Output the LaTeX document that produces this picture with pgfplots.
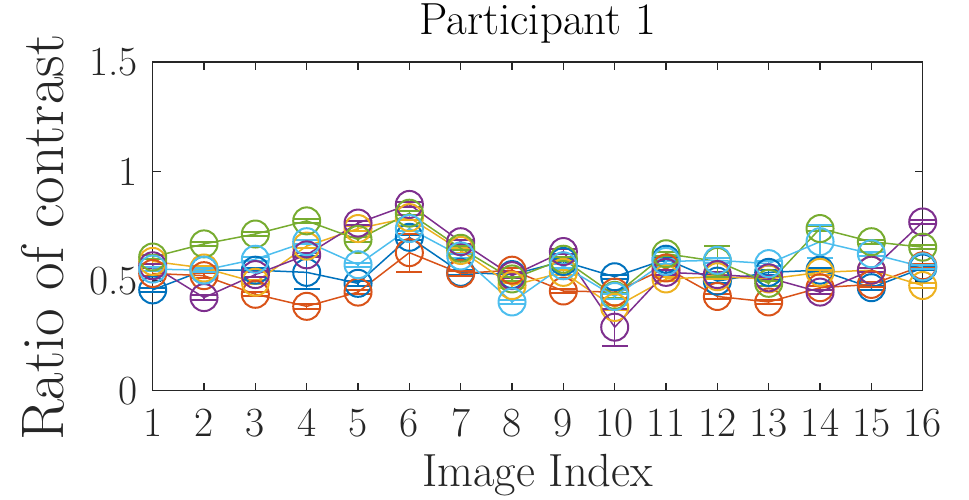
\documentclass[border=0pt]{standalone}
\usepackage{pgfplots}
\pgfplotsset{compat=1.18}
\definecolor{mb}{rgb}{0,0.447,0.741}
\definecolor{mo}{rgb}{0.85,0.325,0.098}
\definecolor{my}{rgb}{0.929,0.694,0.125}
\definecolor{mp}{rgb}{0.494,0.184,0.556}
\definecolor{mg}{rgb}{0.466,0.674,0.188}
\definecolor{mc}{rgb}{0.301,0.745,0.933}
\definecolor{ax}{rgb}{0.15,0.15,0.15}
\pgfplotsset{ser/.style={color=#1, line width=1.5pt, mark=o, mark size=13.5pt,
  mark options={line width=2pt, solid},
  error bars/.cd, y dir=both, y explicit, error mark=-,
  error bar style={line width=1.5pt, color=#1},
  error mark options={mark size=13pt, line width=2pt, color=#1, rotate=90}}}
\begin{document}
\begin{tikzpicture}
\useasboundingbox (-152.7pt,-108.3pt) rectangle (816.3pt,390.7pt);
\begin{axis}[
  at={(0,0)}, anchor=south west,
  scale only axis, width=770pt, height=328.7pt,
  xmin=1, xmax=16, ymin=0, ymax=1.5,
  xtick={1,...,16}, ytick={0,0.5,1,1.5},
  tick pos=both, tick align=inside, major tick length=8pt,
  axis line style={line width=1.3pt, color=ax},
  every tick/.style={line width=1.3pt, color=ax},
  clip=false,
  /pgf/number format/assume math mode=true,
  ticklabel style={font=\fontsize{41.5}{41.5}\selectfont, color=ax},
  xticklabel style={anchor=base, inner sep=0pt, yshift=-45.3pt},
  yticklabel style={anchor=east, inner sep=0pt, xshift=-14.7pt},
  title={Participant 1},
  title style={font=\fontsize{45}{45}\selectfont, at={(axis description cs:0.5,1.064)}, anchor=base, inner sep=0pt},
  xlabel={Image Index},
  xlabel style={font=\fontsize{46.5}{46.5}\selectfont, at={(axis description cs:0.5,-0.292)}, anchor=base, inner sep=0pt, color=ax},
  ylabel={Ratio of contrast},
  ylabel style={font=\fontsize{60}{60}\selectfont, at={(axis description cs:-0.1156,0.465)}, anchor=base, rotate=0, inner sep=0pt, color=ax},
]
\addplot[ser=mb] coordinates {
(1,0.46) +- (0,0.01) (2,0.55) +- (0,0.01) (3,0.55) +- (0,0.01) (4,0.54) +- (0,0.075)
(5,0.49) +- (0,0.01) (6,0.70) +- (0,0.01) (7,0.54) +- (0,0.01) (8,0.53) +- (0,0.01)
(9,0.59) +- (0,0.01) (10,0.52) +- (0,0.01) (11,0.60) +- (0,0.01) (12,0.50) +- (0,0.01)
(13,0.54) +- (0,0.01) (14,0.55) +- (0,0.01) (15,0.47) +- (0,0.01) (16,0.56) +- (0,0.01)};
\addplot[ser=mo] coordinates {
(1,0.535) +- (0,0.01) (2,0.525) +- (0,0.01) (3,0.44) +- (0,0.01) (4,0.385) +- (0,0.01)
(5,0.45) +- (0,0.01) (6,0.63) +- (0,0.087) (7,0.535) +- (0,0.01) (8,0.55) +- (0,0.01)
(9,0.455) +- (0,0.01) (10,0.45) +- (0,0.01) (11,0.56) +- (0,0.01) (12,0.43) +- (0,0.01)
(13,0.405) +- (0,0.01) (14,0.47) +- (0,0.01) (15,0.485) +- (0,0.01) (16,0.57) +- (0,0.01)};
\addplot[ser=my] coordinates {
(1,0.59) +- (0,0.01) (2,0.56) +- (0,0.01) (3,0.495) +- (0,0.01) (4,0.66) +- (0,0.01)
(5,0.74) +- (0,0.01) (6,0.79) +- (0,0.01) (7,0.64) +- (0,0.01) (8,0.48) +- (0,0.01)
(9,0.54) +- (0,0.01) (10,0.38) +- (0,0.01) (11,0.51) +- (0,0.01) (12,0.52) +- (0,0.01)
(13,0.51) +- (0,0.01) (14,0.54) +- (0,0.01) (15,0.55) +- (0,0.01) (16,0.48) +- (0,0.01)};
\addplot[ser=mp] coordinates {
(1,0.57) +- (0,0.01) (2,0.425) +- (0,0.01) (3,0.53) +- (0,0.01) (4,0.62) +- (0,0.01)
(5,0.765) +- (0,0.01) (6,0.85) +- (0,0.01) (7,0.68) +- (0,0.01) (8,0.525) +- (0,0.01)
(9,0.635) +- (0,0.01) (10,0.29) +- (0,0.084) (11,0.54) +- (0,0.01) (12,0.53) +- (0,0.01)
(13,0.515) +- (0,0.01) (14,0.45) +- (0,0.01) (15,0.55) +- (0,0.01) (16,0.77) +- (0,0.01)};
\addplot[ser=mg] coordinates {
(1,0.61) +- (0,0.01) (2,0.67) +- (0,0.01) (3,0.715) +- (0,0.01) (4,0.775) +- (0,0.01)
(5,0.69) +- (0,0.01) (6,0.81) +- (0,0.01) (7,0.65) +- (0,0.01) (8,0.51) +- (0,0.01)
(9,0.60) +- (0,0.01) (10,0.435) +- (0,0.01) (11,0.625) +- (0,0.01) (12,0.59) +- (0,0.07)
(13,0.49) +- (0,0.01) (14,0.74) +- (0,0.01) (15,0.68) +- (0,0.01) (16,0.655) +- (0,0.01)};
\addplot[ser=mc] coordinates {
(1,0.555) +- (0,0.01) (2,0.55) +- (0,0.01) (3,0.60) +- (0,0.01) (4,0.68) +- (0,0.01)
(5,0.575) +- (0,0.01) (6,0.74) +- (0,0.01) (7,0.615) +- (0,0.01) (8,0.405) +- (0,0.01)
(9,0.57) +- (0,0.01) (10,0.43) +- (0,0.01) (11,0.59) +- (0,0.01) (12,0.595) +- (0,0.01)
(13,0.58) +- (0,0.01) (14,0.68) +- (0,0.075) (15,0.625) +- (0,0.01) (16,0.565) +- (0,0.01)};
\end{axis}
\end{tikzpicture}
\end{document}
